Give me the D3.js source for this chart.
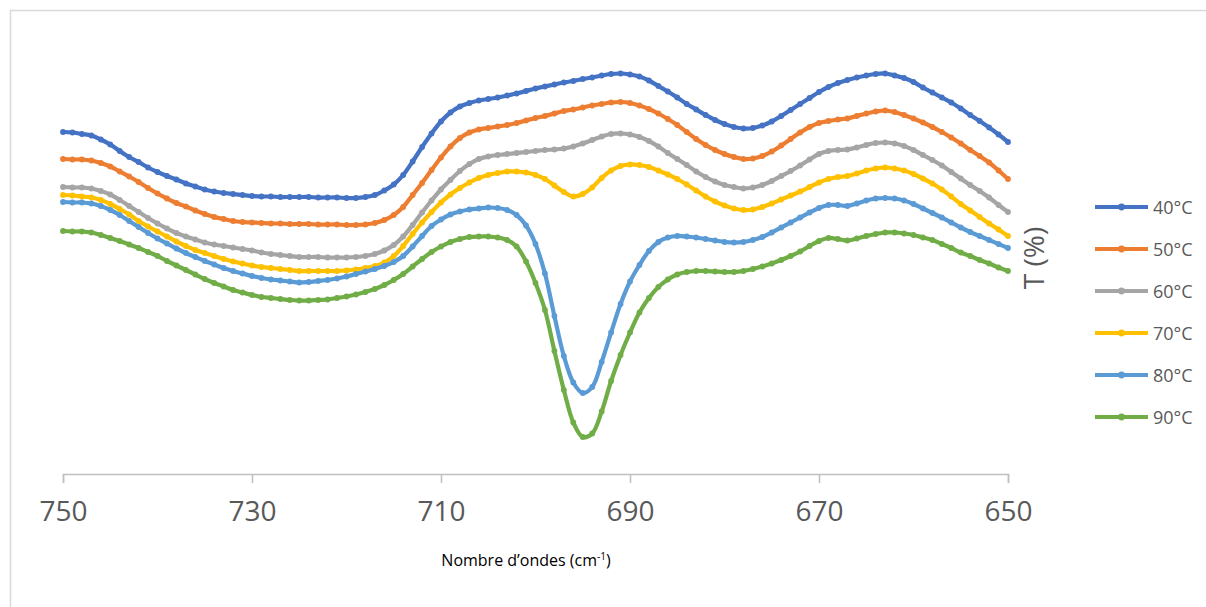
<!DOCTYPE html>
<html>
<head>
<meta charset="utf-8">
<script src="https://cdn.jsdelivr.net/npm/d3@7/dist/d3.min.js"></script>
<style>
  html, body { margin: 0; padding: 0; background: #fff; }
  svg { display: block; }
</style>
</head>
<body>
<svg id="chart" width="1206" height="607"></svg>
<script>
// ---- data ----
const wavenumbers = [750,749,748,747,746,745,744,743,742,741,740,739,738,737,736,735,734,733,732,731,
  730,729,728,727,726,725,724,723,722,721,720,719,718,717,716,715,714,713,712,711,
  710,709,708,707,706,705,704,703,702,701,700,699,698,697,696,695,694,693,692,691,
  690,689,688,687,686,685,684,683,682,681,680,679,678,677,676,675,674,673,672,671,
  670,669,668,667,666,665,664,663,662,661,660,659,658,657,656,655,654,653,652,651,650];

const seriesNames = ["40°C", "50°C", "60°C", "70°C", "80°C", "90°C"];

const t40 = [68.4,68.3,68.0,67.7,66.9,65.9,64.6,63.4,62.4,61.3,
  60.4,59.6,58.9,58.1,57.5,56.9,56.5,56.2,56.0,55.8,
  55.6,55.5,55.5,55.4,55.4,55.4,55.4,55.3,55.3,55.3,
  55.2,55.2,55.4,55.8,56.7,57.9,59.8,62.5,65.4,68.1,
  70.5,72.3,73.5,74.2,74.7,75.0,75.3,75.7,76.1,76.6,
  77.1,77.5,77.9,78.3,78.6,79.0,79.3,79.7,80.0,80.1,
  79.9,79.5,78.7,77.6,76.5,75.3,74.0,72.9,71.8,70.8,
  70.0,69.4,69.1,69.2,69.7,70.5,71.6,72.8,74.0,75.2,
  76.4,77.4,78.2,78.8,79.3,79.7,80.0,80.1,79.7,79.2,
  78.4,77.3,76.3,75.3,74.3,73.1,71.8,70.6,69.3,67.9,66.4];

const t50 = [63.0,62.9,62.9,62.7,62.2,61.5,60.5,59.5,58.4,57.2,
  56.1,55.1,54.2,53.5,52.7,52.0,51.4,51.0,50.6,50.4,
  50.3,50.2,50.1,50.1,50.0,50.0,50.0,49.9,49.9,49.9,
  49.8,49.8,49.9,50.2,50.8,51.8,53.4,55.8,58.2,60.8,
  63.3,65.5,67.2,68.3,68.9,69.2,69.5,69.8,70.2,70.7,
  71.2,71.6,72.1,72.6,72.9,73.3,73.7,74.0,74.3,74.4,
  74.2,73.7,73.0,72.1,71.0,69.8,68.4,67.0,65.8,64.8,
  64.0,63.4,63.0,63.1,63.6,64.5,65.7,67.0,68.3,69.4,
  70.2,70.6,70.9,71.1,71.6,72.1,72.5,72.7,72.4,71.8,
  71.1,70.3,69.4,68.4,67.3,66.1,64.8,63.6,62.3,60.7,59.0];

const t60 = [57.4,57.3,57.3,57.1,56.6,55.9,54.8,53.6,52.4,51.2,
  50.1,49.1,48.2,47.5,46.9,46.3,45.9,45.6,45.3,45.0,
  44.7,44.3,44.0,43.8,43.6,43.4,43.4,43.4,43.3,43.3,
  43.3,43.4,43.6,44.0,44.7,45.8,47.5,49.8,52.3,54.7,
  56.9,58.8,60.6,62.0,63.0,63.5,63.8,64.0,64.2,64.4,
  64.6,64.8,64.9,65.1,65.5,66.1,66.8,67.5,68.0,68.1,
  67.9,67.4,66.6,65.5,64.2,63.0,61.8,60.5,59.4,58.5,
  57.8,57.4,57.1,57.3,57.8,58.6,59.6,60.6,61.7,62.9,
  64.0,64.6,64.8,64.9,65.3,65.8,66.2,66.3,66.1,65.6,
  64.8,63.8,62.8,61.7,60.4,59.1,57.8,56.6,55.3,53.8,52.4];

const t70 = [55.8,55.7,55.5,55.3,54.8,54.0,53.0,51.9,50.6,49.5,
  48.5,47.5,46.5,45.6,44.8,44.2,43.6,43.0,42.5,42.1,
  41.7,41.4,41.2,41.0,40.8,40.6,40.6,40.6,40.6,40.6,
  40.7,40.9,41.2,41.6,42.3,43.6,45.6,48.0,50.3,52.4,
  54.3,55.9,57.2,58.3,59.2,59.8,60.2,60.5,60.5,60.3,
  59.8,59.0,57.7,56.4,55.5,56.0,57.3,59.2,60.7,61.6,
  61.9,61.8,61.4,60.7,59.9,59.0,57.9,56.7,55.5,54.5,
  53.7,53.1,52.8,52.9,53.4,54.1,54.9,55.7,56.5,57.4,
  58.3,59.0,59.4,59.6,60.1,60.7,61.1,61.3,61.1,60.7,
  60.0,59.1,58.1,56.9,55.5,54.0,52.7,51.4,50.1,48.9,47.6];

const t80 = [54.4,54.3,54.3,54.1,53.6,52.8,51.8,50.6,49.4,48.2,
  47.1,46.1,45.1,44.2,43.4,42.6,41.9,41.2,40.6,40.1,
  39.6,39.2,38.9,38.7,38.5,38.3,38.4,38.6,38.8,39.1,
  39.5,40.0,40.5,41.0,41.6,42.4,43.6,45.5,47.6,49.6,
  50.9,51.9,52.5,52.9,53.1,53.3,53.2,52.8,51.8,49.7,
  46.0,40.1,31.6,23.6,18.3,16.2,17.4,22.4,28.3,34.0,
  38.5,41.8,44.6,46.4,47.3,47.6,47.5,47.3,47.0,46.7,
  46.4,46.3,46.4,46.8,47.4,48.3,49.3,50.3,51.3,52.3,
  53.2,53.8,53.8,53.6,54.1,54.7,55.1,55.2,55.1,54.7,
  54.0,53.1,52.2,51.3,50.3,49.3,48.4,47.6,46.8,46.0,45.2];

const t90 = [48.6,48.5,48.5,48.3,47.8,47.2,46.6,45.9,45.2,44.4,
  43.6,42.6,41.7,40.8,39.9,39.0,38.2,37.5,36.8,36.3,
  35.8,35.4,35.2,35.0,34.8,34.7,34.7,34.8,34.9,35.2,
  35.5,35.9,36.4,37.0,37.8,38.8,40.0,41.5,43.0,44.4,
  45.5,46.4,47.0,47.4,47.5,47.5,47.3,46.8,45.5,42.5,
  38.2,32.8,24.6,16.8,10.3,7.4,8.1,12.5,18.6,23.8,
  28.3,32.3,35.2,37.4,38.9,39.9,40.4,40.6,40.6,40.5,
  40.4,40.4,40.6,41.0,41.5,42.1,42.8,43.6,44.5,45.6,
  46.6,47.2,47.0,46.7,47.1,47.6,48.0,48.3,48.3,48.1,
  47.8,47.3,46.8,46.0,45.2,44.3,43.6,42.8,42.1,41.3,40.6];

const xTicks = [750, 730, 710, 690, 670, 650];
const xDomain = [750, 650];
const yDomain = [0, 90];

const colors = ["#4472C4", "#ED7D31", "#A5A5A5", "#FFC000", "#5B9BD5", "#70AD47"];
const seriesValues = [t40, t50, t60, t70, t80, t90];

// ---- drawing ----
const svg = d3.select("#chart");

// outer frame (top and left edges visible)
svg.append("line").attr("x1", 10).attr("x2", 1206).attr("y1", 10.5).attr("y2", 10.5)
  .attr("stroke", "#d9d9d9").attr("stroke-width", 1.5);
svg.append("line").attr("x1", 10.5).attr("x2", 10.5).attr("y1", 10).attr("y2", 607)
  .attr("stroke", "#d9d9d9").attr("stroke-width", 1.5);

const x = d3.scaleLinear().domain(xDomain).range([63, 1008]);
const y = d3.scaleLinear().domain(yDomain).range([474, 24]);

// x axis
const xAxis = d3.axisBottom(x).tickValues(xTicks).tickSize(9).tickPadding(18).tickFormat(d3.format("d"));
const gx = svg.append("g").attr("transform", "translate(0,474)").call(xAxis);
gx.select(".domain").attr("stroke", "#bfbfbf").attr("stroke-width", 1.5);
gx.selectAll(".tick line").attr("stroke", "#bfbfbf").attr("stroke-width", 1.5);
gx.selectAll(".tick text").attr("fill", "#595959")
  .style("font-family", "'Open Sans', sans-serif").style("font-size", "28px");

// x axis title
const xt = svg.append("text").attr("x", 526).attr("y", 566).attr("text-anchor", "middle")
  .style("font-family", "'Open Sans', sans-serif").style("font-size", "16px").attr("fill", "#000");
xt.append("tspan").text("Nombre d’ondes (cm");
xt.append("tspan").text("-1").attr("dy", -6).style("font-size", "10px");
xt.append("tspan").text(")").attr("dy", 6);

// y axis title
svg.append("text").attr("transform", "translate(1044,258) rotate(-90)")
  .attr("text-anchor", "middle").attr("fill", "#595959")
  .style("font-family", "'Open Sans', sans-serif").style("font-size", "28px").text("T (%)");

// series
const line = d3.line().x(d => x(d[0])).y(d => y(d[1])).curve(d3.curveCatmullRom.alpha(0.5));

seriesValues.forEach((vals, i) => {
  const data = wavenumbers.map((w, j) => [w, vals[j]]);
  const g = svg.append("g");
  g.append("path").datum(data).attr("d", line).attr("fill", "none")
    .attr("stroke", colors[i]).attr("stroke-width", 4.2).attr("stroke-linejoin", "round");
  g.selectAll("circle").data(data).join("circle")
    .attr("cx", d => x(d[0])).attr("cy", d => y(d[1])).attr("r", 2.9).attr("fill", colors[i]);
});

// legend
const legend = svg.append("g");
seriesNames.forEach((name, i) => {
  const ly = 207 + i * 42;
  legend.append("line").attr("x1", 1095).attr("x2", 1148).attr("y1", ly).attr("y2", ly)
    .attr("stroke", colors[i]).attr("stroke-width", 4);
  legend.append("circle").attr("cx", 1121.5).attr("cy", ly).attr("r", 3.4).attr("fill", colors[i]);
  legend.append("text").attr("x", 1153).attr("y", ly + 6.5).attr("fill", "#595959")
    .style("font-family", "'Open Sans', sans-serif").style("font-size", "18px").text(name);
});
</script>
</body>
</html>
